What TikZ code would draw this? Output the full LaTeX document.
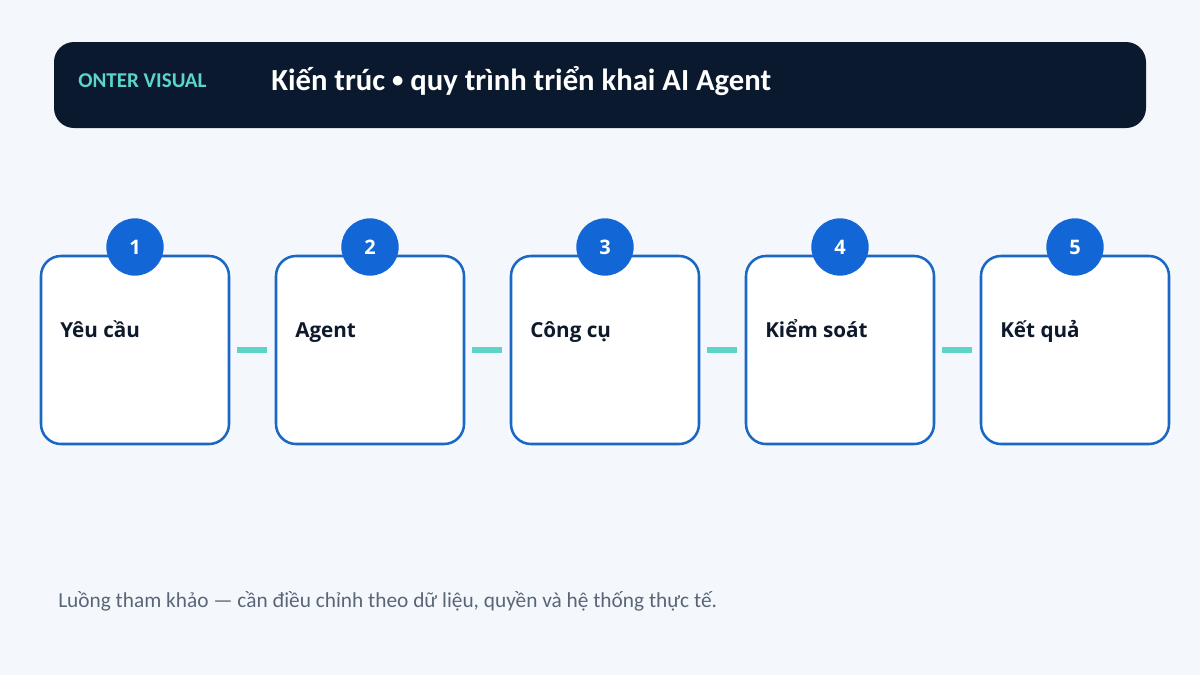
\documentclass[tikz,border=0pt]{standalone}
\usepackage{fontspec}
\setmainfont{Carlito}
\newfontfamily\labelfont{Open Sans}[BoldFont={* Bold}]
\usetikzlibrary{positioning}

\definecolor{pagebg}{HTML}{F4F8FC}
\definecolor{headbg}{HTML}{0A192D}
\definecolor{tealc}{HTML}{5CD5C8}
\definecolor{edgeblue}{HTML}{1A67C4}
\definecolor{dotblue}{HTML}{1366D6}
\definecolor{inkc}{HTML}{0E1A2B}
\definecolor{notec}{HTML}{5B6578}

\tikzset{
  stepbox/.style={draw=edgeblue, line width=1.9pt, fill=white,
    rounded corners=15pt, minimum width=141pt, minimum height=141pt},
  stepnum/.style={circle, fill=dotblue, minimum size=43pt, inner sep=0pt,
    text=white, font=\labelfont\bfseries\fontsize{15}{17}\selectfont},
  steplabel/.style={anchor=base west, inner sep=0pt, text=inkc,
    font=\labelfont\bfseries\fontsize{15.5}{18}\selectfont},
  link/.style={draw=tealc, line width=4.5pt}
}

\begin{document}
\begin{tikzpicture}[x=0.75pt,y=-0.75pt]
\fill[pagebg] (0,0) rectangle (1200,675);
\useasboundingbox (0,0) rectangle (1200,675);

% header
\fill[headbg, rounded corners=15pt] (54,42) rectangle (1146,128);
\node[anchor=west, inner sep=0pt, text=tealc,
  font=\bfseries\fontsize{15.8}{18}\selectfont] (brand) at (78,81) {ONTER VISUAL};
\node[anchor=west, inner sep=0pt, text=white,
  font=\bfseries\fontsize{23}{27}\selectfont] (title) at (271,81)
  {Kiến trúc {\fontsize{17}{20}\selectfont\raisebox{0.13em}{•}} quy trình triển khai AI Agent};

% steps
\foreach \i/\txt in {1/Yêu cầu, 2/Agent, 3/Công cụ, 4/Kiểm soát, 5/Kết quả}{
  \node[stepbox] (b\i) at ({135+235*(\i-1)},350) {};
  \node[stepnum] (n\i) at ({135+235*(\i-1)},247) {\i};
  \node[steplabel] (t\i) at ({60+235*(\i-1)},337) {\txt};
}
\foreach \i [evaluate=\i as \j using int(\i+1)] in {1,...,4}
  \draw[link] ([xshift=5.25pt]b\i.east) -- ([xshift=-6pt]b\j.west);

% footer
\node[anchor=base west, inner sep=0pt, text=notec,
  font=\fontsize{16}{19}\selectfont] (note) at (58,607)
  {Luồng tham khảo — cần điều chỉnh theo dữ liệu, quyền và hệ thống thực tế.};
\end{tikzpicture}
\end{document}
